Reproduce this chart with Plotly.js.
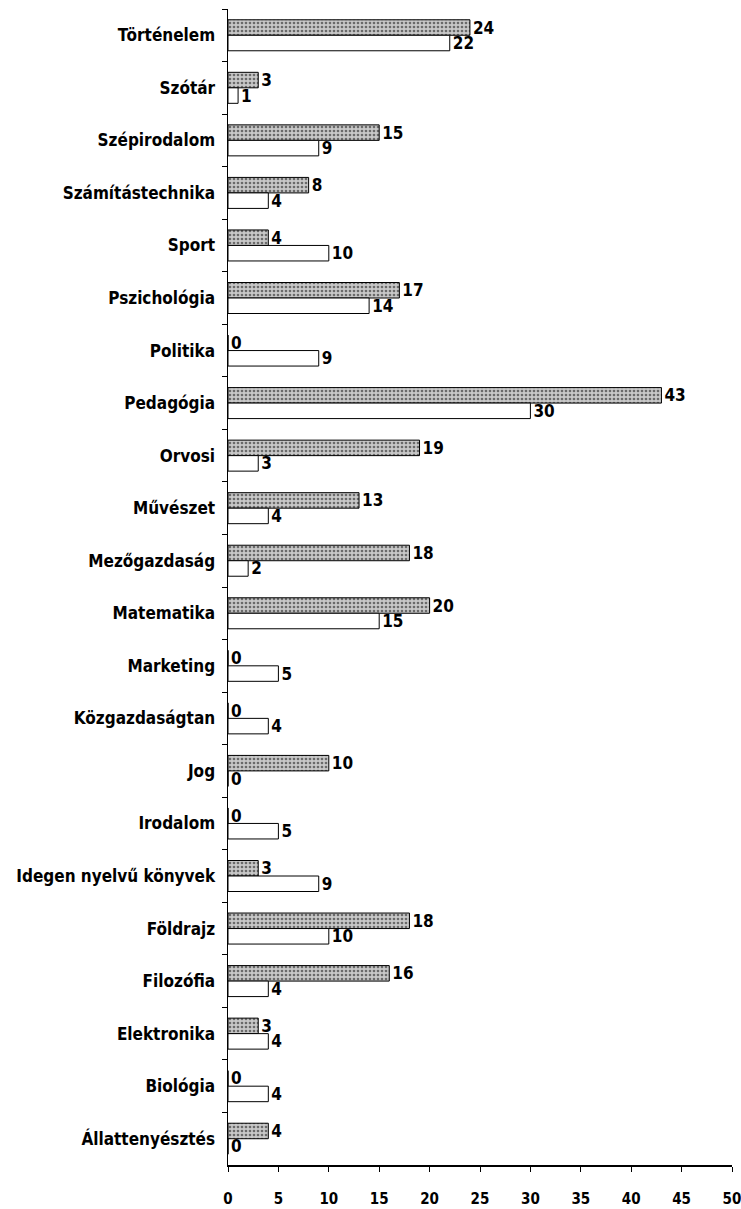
<!DOCTYPE html>
<html>
<head>
<meta charset="utf-8">
<script src="https://cdn.plot.ly/plotly-3.0.1.min.js"></script>
<style>html,body{margin:0;padding:0;background:#fff;}#chart{width:741px;height:1209px;}</style>
</head>
<body>
<div id="chart"></div>
<script>
const categories = ["Történelem","Szótár","Szépirodalom","Számítástechnika","Sport","Pszichológia","Politika","Pedagógia","Orvosi","Művészet","Mezőgazdaság","Matematika","Marketing","Közgazdaságtan","Jog","Irodalom","Idegen nyelvű könyvek","Földrajz","Filozófia","Elektronika","Biológia","Állattenyésztés"];
const seriesGray = [24,3,15,8,4,17,0,43,19,13,18,20,0,0,10,0,3,18,16,3,0,4];
const seriesWhite = [22,1,9,4,10,14,9,30,3,4,2,15,5,4,0,5,9,10,4,4,4,0];
const xTicks = [0,5,10,15,20,25,30,35,40,45,50];

const FAM = "DejaVu Sans Condensed, DejaVu Sans, Liberation Sans, sans-serif";
const fnt = {family:FAM, size:17, color:"#000", weight:"bold"};
const valFnt = {family:FAM, size:17, color:"#000", weight:"bold"};
const xFnt = {family:FAM, size:15, color:"#000", weight:"bold"};

const traces = [
  {type:"bar", orientation:"h", y:categories, x:seriesGray, name:"A",
   marker:{color:"#b8b8b8", line:{color:"#000", width:1},
           pattern:{shape:".", bgcolor:"#c8c8c8", fgcolor:"#6a6a6a", size:4, solidity:0.35}},
   text:seriesGray.map(String), textposition:"outside", textfont:valFnt, constraintext:"none", cliponaxis:false},
  {type:"bar", orientation:"h", y:categories, x:seriesWhite, name:"B",
   marker:{color:"#fff", line:{color:"#000", width:1}},
   text:seriesWhite.map(String), textposition:"outside", textfont:valFnt, constraintext:"none", cliponaxis:false}
];

const layout = {
  width:741, height:1209,
  margin:{l:228, r:9, t:9, b:44},
  paper_bgcolor:"#fff", plot_bgcolor:"#fff",
  showlegend:false,
  barmode:"group", bargap:0.41, bargroupgap:0,
  font:fnt,
  xaxis:{range:[0,50], tickvals:xTicks, ticktext:xTicks.map(String), showgrid:false, zeroline:false,
         showline:true, linecolor:"#000", linewidth:1.5, ticks:"outside", ticklen:5, tickcolor:"#000",
         tickfont:xFnt, ticklabelstandoff:14, ticklabeloverflow:"allow", fixedrange:true},
  yaxis:{type:"category", autorange:"reversed", showgrid:false, zeroline:false,
         showline:true, linecolor:"#000", linewidth:1.5, ticks:"outside", ticklen:5, tickcolor:"#000",
         tickson:"boundaries", tickfont:fnt, ticklabelstandoff:8, fixedrange:true}
};

Plotly.newPlot("chart", traces, layout, {staticPlot:true, displayModeBar:false});
</script>
</body>
</html>
